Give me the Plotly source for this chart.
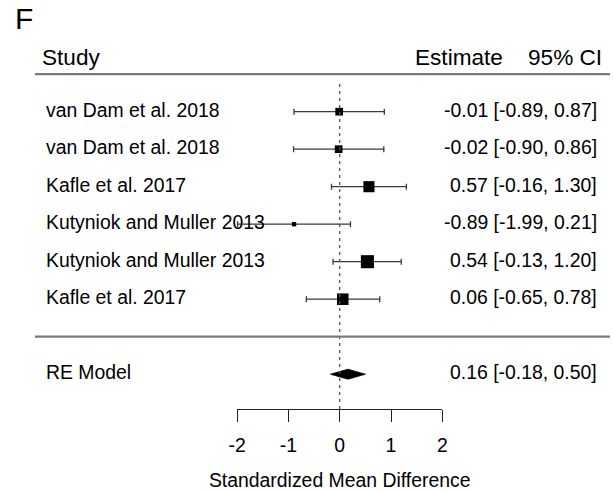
import plotly.graph_objects as go

# ---- data -------------------------------------------------------------
studies = [
    "van Dam et al. 2018",
    "van Dam et al. 2018",
    "Kafle et al. 2017",
    "Kutyniok and Muller 2013",
    "Kutyniok and Muller 2013",
    "Kafle et al. 2017",
]
estimates = [-0.01, -0.02, 0.57, -0.89, 0.54, 0.06]
ci_lower = [-0.89, -0.90, -0.16, -1.99, -0.13, -0.65]
ci_upper = [0.87, 0.86, 1.30, 0.21, 1.20, 0.78]

pooled_label = "RE Model"
pooled_estimate = 0.16
pooled_lower = -0.18
pooled_upper = 0.50

axis_ticks = [-2, -1, 0, 1, 2]

# ---- geometry ---------------------------------------------------------
W, H = 613, 491
X_ZERO_PX = 339.7          # pixel column of effect size 0
PX_PER_UNIT = 51.3         # pixels per unit of effect size
ROW_PX = 37.5              # pixels between rows
TOP_ROW_PX = 111.7         # pixel row of the first study
AXIS_PX = 409.0            # pixel row of the effect-size axis line

k = len(studies)
x_range = [-X_ZERO_PX / PX_PER_UNIT, (W - X_ZERO_PX) / PX_PER_UNIT]
y_range = [k - (H - TOP_ROW_PX) / ROW_PX, k + TOP_ROW_PX / ROW_PX]
rows = list(range(k, 0, -1))
pooled_row = -1
header_row = k + 1
axis_row = k - (AXIS_PX - TOP_ROW_PX) / ROW_PX

def xpaper(v):
    return (v - x_range[0]) / (x_range[1] - x_range[0])

def ypaper(r):
    return (r - y_range[0]) / (y_range[1] - y_range[0])

FONT = "Liberation Sans, Arial, Helvetica, sans-serif"
TEXT_SIZE = 19.4
INK = "#000000"
BAR = "#3a3a3a"
RULE = "#7a7a7a"

# box sizes scale with inverse standard error (0.5 .. 1.5 times a base size)
inv_se = [3.92 / (u - l) for l, u in zip(ci_lower, ci_upper)]
lo_w, hi_w = min(inv_se), max(inv_se)
BASE_BOX = 8.7
box_sizes = [BASE_BOX * (0.5 + (w - lo_w) / (hi_w - lo_w)) for w in inv_se]

fig = go.Figure()

# confidence intervals (whiskers with end caps)
fig.add_trace(go.Scatter(
    x=estimates, y=rows, mode="markers",
    marker=dict(size=1, color="rgba(0,0,0,0)"),
    error_x=dict(
        type="data", symmetric=False,
        array=[u - e for e, u in zip(estimates, ci_upper)],
        arrayminus=[e - l for e, l in zip(estimates, ci_lower)],
        color=BAR, thickness=1.3, width=3,
    ),
    cliponaxis=False, hoverinfo="skip", showlegend=False,
))

# study estimates, drawn on top of the whiskers
fig.add_trace(go.Scatter(
    x=estimates, y=rows, mode="markers",
    marker=dict(symbol="square", size=box_sizes, color=INK, opacity=1,
                line=dict(width=0)),
    cliponaxis=False, hoverinfo="skip", showlegend=False,
))

# pooled random-effects diamond (on the visible effect-size axis)
DIAMOND_HALF = 5.0 / ROW_PX
fig.add_trace(go.Scatter(
    x=[pooled_lower, pooled_estimate, pooled_upper, pooled_estimate, pooled_lower],
    y=[pooled_row, pooled_row + DIAMOND_HALF, pooled_row,
       pooled_row - DIAMOND_HALF, pooled_row],
    mode="lines", fill="toself", fillcolor=INK,
    line=dict(color=INK, width=0.8),
    xaxis="x2", yaxis="y", cliponaxis=False,
    hoverinfo="skip", showlegend=False,
))

# reference line at zero
fig.add_shape(type="line", xref="x", yref="y", x0=0, x1=0,
              y0=axis_row, y1=header_row - 0.2,
              line=dict(color="#555555", width=1.3, dash="3px,4px"))

# header rule and separator above the pooled estimate
for r in (header_row, 0):
    fig.add_shape(type="line", xref="paper", yref="y",
                  x0=35 / W, x1=610 / W, y0=r, y1=r,
                  line=dict(color=RULE, width=2.2))

annotations = []

def label(text, x, y, anchor, size=TEXT_SIZE, yref="y"):
    annotations.append(dict(
        text=text, x=x, y=y, xref="paper", yref=yref,
        xanchor=anchor, yanchor="middle", showarrow=False,
        font=dict(family=FONT, size=size, color=INK),
    ))

# panel letter and header
label("F", 13 / W, 1 - 19 / H, "left", size=30, yref="paper")
label("Study", 40 / W, header_row + 0.45, "left", size=22.6)
label("Estimate", 505 / W, header_row + 0.45, "right", size=22.6)
label("95% CI", 604 / W, header_row + 0.45, "right", size=22.6)

# study labels and estimate text
for name, e, l, u, r in zip(studies, estimates, ci_lower, ci_upper, rows):
    label(name, 44 / W, r + 0.05, "left")
    label(f"{e:.2f} [{l:.2f}, {u:.2f}]", 599 / W, r + 0.05, "right")

label(pooled_label, 44 / W, pooled_row + 0.05, "left")
label(f"{pooled_estimate:.2f} [{pooled_lower:.2f}, {pooled_upper:.2f}]",
      599 / W, pooled_row + 0.05, "right")

fig.update_layout(
    width=W, height=H,
    margin=dict(l=0, r=0, t=0, b=0, pad=0, autoexpand=False),
    paper_bgcolor="white", plot_bgcolor="rgba(0,0,0,0)",
    font=dict(family=FONT, size=TEXT_SIZE, color=INK),
    annotations=annotations,
    xaxis=dict(range=x_range, visible=False, fixedrange=True, automargin=False),
    yaxis=dict(range=y_range, visible=False, fixedrange=True, automargin=False),
    xaxis2=dict(
        anchor="free", position=ypaper(axis_row), automargin=False,
        domain=[xpaper(axis_ticks[0]), xpaper(axis_ticks[-1])],
        range=[axis_ticks[0], axis_ticks[-1]],
        tickvals=axis_ticks, ticktext=[str(t) for t in axis_ticks],
        showline=True, linecolor="#222222", linewidth=1.3,
        ticks="outside", ticklen=12, tickwidth=1.3, tickcolor="#222222",
        ticklabelstandoff=7,
        showgrid=False, zeroline=False, fixedrange=True,
        tickfont=dict(family=FONT, size=TEXT_SIZE, color=INK),
        title=dict(text="Standardized Mean Difference", standoff=17,
                   font=dict(family=FONT, size=TEXT_SIZE, color=INK)),
    ),
)

fig.write_html("out.html")
